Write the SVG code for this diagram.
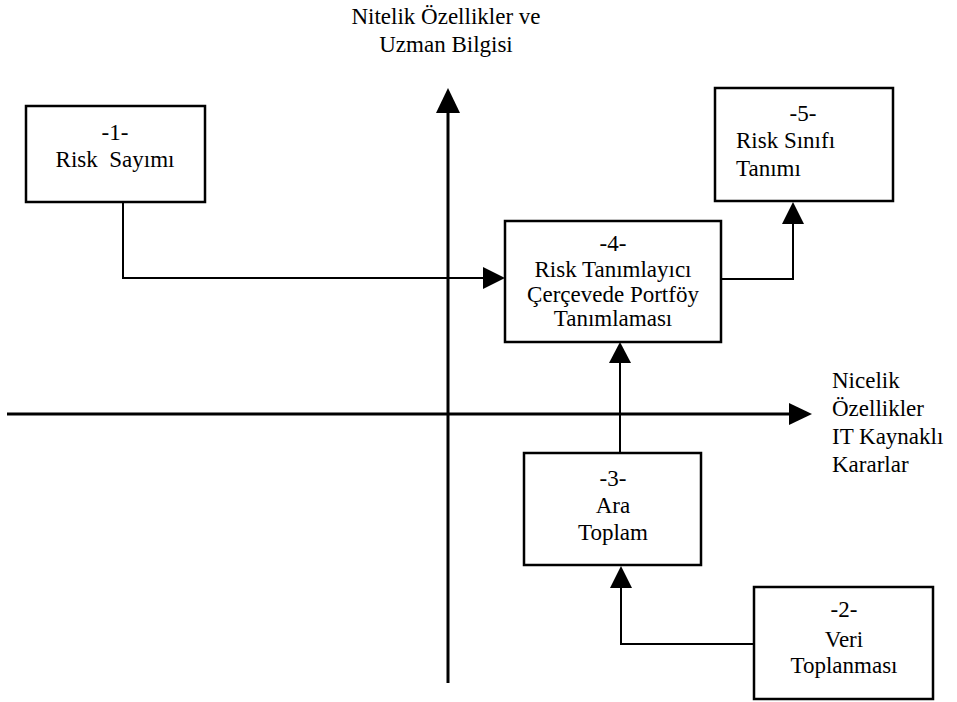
<svg xmlns="http://www.w3.org/2000/svg" width="957" height="702" viewBox="0 0 957 702" font-family="'Liberation Serif', 'Times New Roman', 'DejaVu Serif', serif">
<style>
.box{fill:#fff;stroke:#000;stroke-width:2.5}
text{font-family:'Liberation Serif','Times New Roman','DejaVu Serif',serif;font-size:23px;fill:#000;white-space:pre}
.c{text-anchor:middle}
.ax{stroke:#000;stroke-width:3;fill:none}
.cn{stroke:#000;stroke-width:2;fill:none}
.ah{fill:#000}
</style>
<rect width="957" height="702" fill="#fff"/>
<g id="axes">
<line class="ax" x1="448" y1="110" x2="448" y2="683"/>
<polygon class="ah" points="448,88 436,113 460,113"/>
<line class="ax" x1="7" y1="414" x2="792" y2="414"/>
<polygon class="ah" points="812,414 789,403 789,425"/>
<text class="c" x="446" y="24" font-size="24">Nitelik Özellikler ve</text>
<text class="c" x="446" y="52" font-size="24">Uzman Bilgisi</text>
<text x="832" y="388">Nicelik</text>
<text x="832" y="416">Özellikler</text>
<text x="832" y="444">IT Kaynaklı</text>
<text x="832" y="472">Kararlar</text>
</g>
<g id="connectors">
<polyline class="cn" points="123,202 123,278 486,278"/>
<polygon class="ah" points="505,278 483,267 483,289"/>
<polyline class="cn" points="712,279 793,279 793,222"/>
<polygon class="ah" points="793,202 782,224 804,224"/>
<line class="cn" x1="620" y1="453" x2="620" y2="360"/>
<polygon class="ah" points="620,342 609,363 631,363"/>
<polyline class="cn" points="754,644 621,644 621,586"/>
<polygon class="ah" points="621,566 610,588 632,588"/>
</g>
<g id="node1">
<rect class="box" x="26" y="106" width="179" height="96"/>
<text class="c" x="115" y="140">-1-</text>
<text class="c" x="115" y="167">Risk  Sayımı</text>
</g>
<g id="node4">
<rect class="box" x="505" y="221" width="216" height="121"/>
<text class="c" x="613" y="251" font-size="22">-4-</text>
<text class="c" x="613" y="277" font-size="22">Risk Tanımlayıcı</text>
<text class="c" x="613" y="302" font-size="22">Çerçevede Portföy</text>
<text class="c" x="613" y="326" font-size="22">Tanımlaması</text>
</g>
<g id="node5">
<rect class="box" x="715" y="88" width="178" height="113"/>
<text class="c" x="803" y="121">-5-</text>
<text x="736" y="148">Risk Sınıfı</text>
<text x="736" y="176">Tanımı</text>
</g>
<g id="node3">
<rect class="box" x="524" y="453" width="177" height="112"/>
<text class="c" x="613" y="486">-3-</text>
<text class="c" x="613" y="513">Ara</text>
<text class="c" x="613" y="540">Toplam</text>
</g>
<g id="node2">
<rect class="box" x="754" y="587" width="179" height="112"/>
<text class="c" x="844" y="617">-2-</text>
<text class="c" x="844" y="647">Veri</text>
<text class="c" x="844" y="673">Toplanması</text>
</g>
</svg>
